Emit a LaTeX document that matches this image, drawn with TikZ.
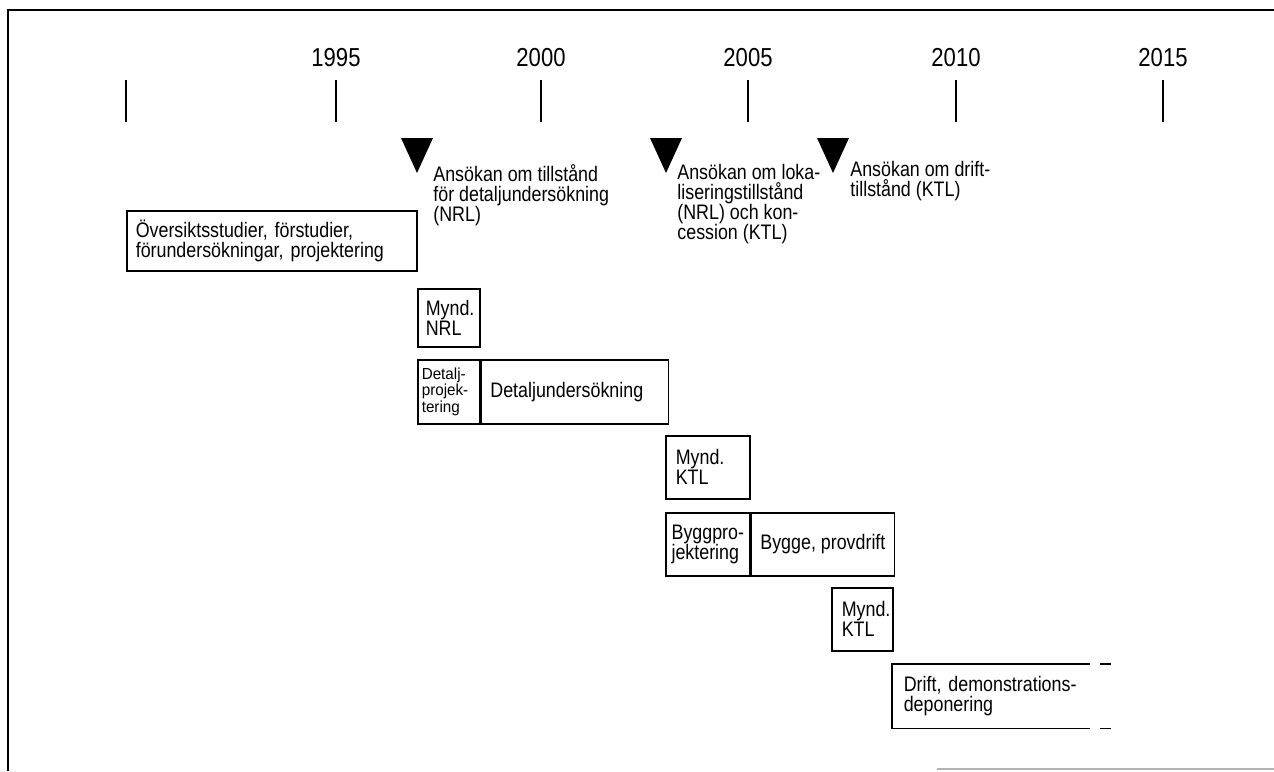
\documentclass[tikz,border=0pt]{standalone}
\usepackage{fontspec}
\setmainfont{Liberation Sans}[FakeStretch=0.85]
\newfontfamily\smallfont{Liberation Sans}[FakeStretch=0.95]
\usetikzlibrary{positioning}
\hfuzz=10pt
\tikzset{%
  box/.style={draw,line width=0.8pt,anchor=north west,align=left,inner xsep=4.5pt,inner ysep=0pt,minimum height=31.5pt,font=\fontsize{10.5}{10}\selectfont},
  note/.style={anchor=north west,align=left,inner sep=0pt,font=\fontsize{10.5}{10}\selectfont},
  year/.style={anchor=base,inner sep=0pt,font=\fontsize{13}{13}\selectfont},
  tick/.style={line width=0.8pt},
  frame/.style={line width=1.4pt},
  pointer/.style={fill=black}
}
\begin{document}
\begin{tikzpicture}[x=0.5pt,y=-0.5pt]
  \useasboundingbox (0,0) rectangle (1274,771);
  \draw[frame] (8,771) |- (1274,10);
  \draw[gray!60,line width=0.6pt] (937,769) -- (1274,769);

  % time axis
  \foreach \x in {126,336,541,748,956,1163}
    \draw[tick] (\x,80) -- (\x,122);
  \foreach \yr/\x in {1995/336,2000/541,2005/748,2010/956,2015/1163}
    \node[year] (y\yr) at (\x,66) {\yr};

  % applications
  \foreach \x in {417,666,833}
    \fill[pointer] (\x-16,138) -- (\x+16,138) -- (\x,173) -- cycle;
  \node[note] (ans1) at (433,164) {Ansökan om tillstånd\\för detaljundersökning\\(NRL)};
  \node[note] (ans2) at (677,164) {Ansökan om loka-\\liseringstillstånd\\(NRL) och kon-\\cession (KTL)};
  \node[note] (ans3) at (850,161) {Ansökan om drift-\\tillstånd (KTL)};

  % activities
  \node[box,minimum height=30pt,text width=136pt] (overs) at (126,210)
    {Översiktsstudier, förstudier,\\förundersökningar, projektering};
  \node[box,minimum height=29pt,inner xsep=4pt,text width=23pt] (myndnrl) at (417,288) {Mynd.\\NRL};
  \node[box,minimum height=32pt,inner xsep=2pt,text width=27pt,
    font=\smallfont\fontsize{8}{8.3}\selectfont] (detproj) at (417,359) {Detalj-\\projek-\\tering};
  \node[box,minimum height=32pt,text width=84.5pt,right=0pt of detproj] (detund) {Detaljundersökning};

  \node[box,inner xsep=5pt,text width=32pt] (myndktl) at (665,435) {Mynd.\\KTL};
  \node[box,inner xsep=0pt,minimum width=42pt] (byggproj) at (665,512) {Byggpro-\\jektering};
  \node[box,inner xsep=0pt,minimum width=71.5pt,right=0pt of byggproj] (bygge) {Bygge, provdrift};

  \node[box,inner xsep=5pt,text width=20.5pt] (myndktlb) at (831,587) {Mynd.\\KTL};
  \node[box,draw=none,inner xsep=5.5pt,text width=87pt] (drift) at (892,664)
    {Drift, demonstrations-\\deponering};
  \draw[line width=0.8pt] (drift.north east) -- (drift.north west)
    -- (drift.south west) -- (drift.south east);
  \draw[line width=0.8pt] ([xshift=5pt]drift.north east) -- ++(11,0);
  \draw[line width=0.8pt] ([xshift=5pt]drift.south east) -- ++(11,0);
\end{tikzpicture}
\end{document}
